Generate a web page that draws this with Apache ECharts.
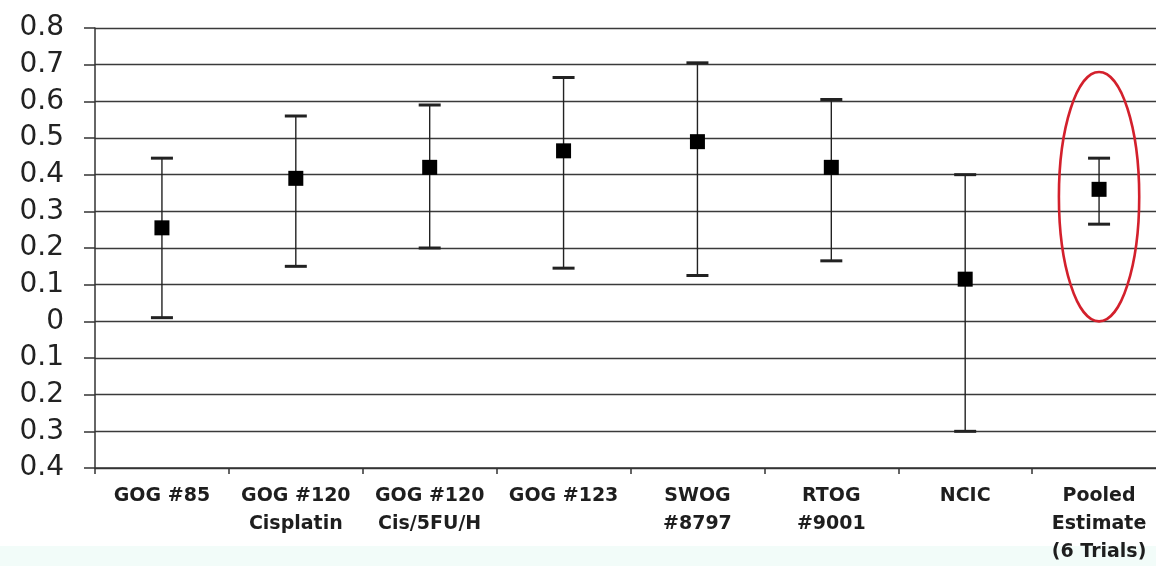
<!DOCTYPE html>
<html>
<head>
<meta charset="utf-8">
<script src="https://cdn.jsdelivr.net/npm/echarts@6/dist/echarts.min.js"></script>
<style>
html,body{margin:0;padding:0;background:#fff;overflow:hidden;width:1156px;height:566px;}
#chart{width:1166px;height:566px;}
</style>
</head>
<body>
<div id="chart"></div>
<script>
const categories = ['GOG #85', 'GOG #120\nCisplatin', 'GOG #120\nCis/5FU/H', 'GOG #123', 'SWOG\n#8797', 'RTOG\n#9001', 'NCIC', 'Pooled\nEstimate\n(6 Trials)'];
const estimates = [0.255, 0.39, 0.42, 0.465, 0.49, 0.42, 0.115, 0.36];
const lowerCI = [0.01, 0.15, 0.2, 0.145, 0.125, 0.165, -0.3, 0.265];
const upperCI = [0.445, 0.56, 0.59, 0.665, 0.705, 0.605, 0.4, 0.445];
const highlight = [[7, 0.0, 0.68]];

const chart = echarts.init(document.getElementById('chart'));
const ebData = categories.map((c, i) => [i, lowerCI[i], upperCI[i], estimates[i]]);

chart.setOption({
  animation: false,
  backgroundColor: '#fff',
  graphic: [{
    type: 'rect', left: 0, bottom: 0, z: -10,
    shape: { width: 1166, height: 20 },
    style: { fill: '#f2fcf9' }
  }],
  grid: { left: 95, right: 0, top: 28, bottom: 96 },
  xAxis: {
    type: 'category',
    data: categories,
    position: 'bottom',
    axisLine: { onZero: false, lineStyle: { color: '#333', width: 1.5 } },
    axisTick: { show: true, length: 6, lineStyle: { color: '#333', width: 1.5 } },
    axisLabel: {
      interval: 0, margin: 14, color: '#1e1e1e',
      fontFamily: 'DejaVu Sans', fontWeight: 'bold', fontSize: 19, lineHeight: 28
    },
    splitLine: { show: false }
  },
  yAxis: {
    type: 'value', min: -0.4, max: 0.8, interval: 0.1,
    axisLine: { show: true, lineStyle: { color: '#333', width: 1.5 } },
    axisTick: { show: true, length: 11, lineStyle: { color: '#333', width: 1.5 } },
    axisLabel: {
      margin: 31, color: '#222', fontFamily: 'DejaVu Sans', fontSize: 28,
      formatter: v => { const a = Math.abs(v); return a < 1e-9 ? '0' : a.toFixed(1); }
    },
    splitLine: { show: true, lineStyle: { color: '#3a3a3a', width: 1.4 } }
  },
  series: [{
    type: 'custom',
    data: ebData,
    z: 5,
    renderItem: function (params, api) {
      const x = api.value(0);
      const lo = api.coord([x, api.value(1)]);
      const hi = api.coord([x, api.value(2)]);
      const mid = api.coord([x, api.value(3)]);
      const cap = 11, sq = 15;
      return {
        type: 'group',
        children: [
          { type: 'line', shape: { x1: lo[0], y1: lo[1], x2: hi[0], y2: hi[1] }, style: { stroke: '#222', lineWidth: 1.4 } },
          { type: 'line', shape: { x1: hi[0] - cap, y1: hi[1], x2: hi[0] + cap, y2: hi[1] }, style: { stroke: '#222', lineWidth: 3 } },
          { type: 'line', shape: { x1: lo[0] - cap, y1: lo[1], x2: lo[0] + cap, y2: lo[1] }, style: { stroke: '#222', lineWidth: 3 } },
          { type: 'rect', shape: { x: mid[0] - sq / 2, y: mid[1] - sq / 2, width: sq, height: sq }, style: { fill: '#000' } }
        ]
      };
    }
  }, {
    type: 'custom',
    data: highlight,
    z: 6,
    renderItem: function (params, api) {
      const x = api.value(0);
      const bot = api.coord([x, api.value(1)]);
      const top = api.coord([x, api.value(2)]);
      const w = api.size([1, 0])[0];
      return {
        type: 'ellipse',
        shape: { cx: bot[0], cy: (bot[1] + top[1]) / 2, rx: w * 0.3, ry: (bot[1] - top[1]) / 2 },
        style: { fill: 'none', stroke: '#d3202c', lineWidth: 2.6 }
      };
    }
  }]
});
</script>
</body>
</html>
